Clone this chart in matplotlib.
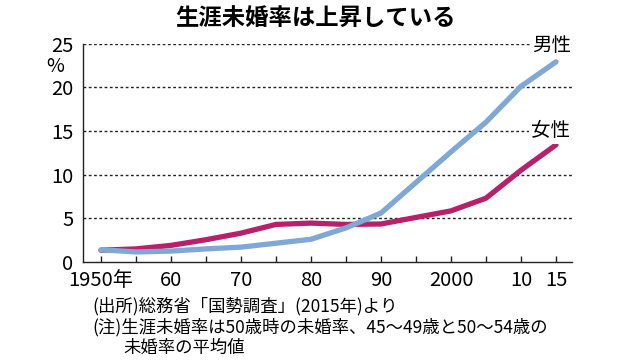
import matplotlib
matplotlib.use("Agg")
import matplotlib.pyplot as plt
from matplotlib.ticker import FixedLocator

years = [1950, 1955, 1960, 1965, 1970, 1975, 1980, 1985, 1990, 1995, 2000, 2005, 2010, 2015]
male = [1.4, 1.15, 1.25, 1.5, 1.7, 2.15, 2.6, 3.9, 5.6, 9.1, 12.6, 16.0, 20.1, 22.9]
female = [1.35, 1.5, 1.9, 2.55, 3.3, 4.3, 4.45, 4.3, 4.35, 5.1, 5.85, 7.3, 10.5, 13.4]
xtick_pos = [1950, 1960, 1970, 1980, 1990, 2000, 2010, 2015]
xtick_labels = ["1950年", "60", "70", "80", "90", "2000", "10", "15"]
ytick_pos = [0, 5, 10, 15, 20, 25]
title = "生涯未婚率は上昇している"
notes = ["(出所)総務省「国勢調査」(2015年)より",
         "(注)生涯未婚率は50歳時の未婚率、45～49歳と50～54歳の",
         "未婚率の平均値"]

NUM = ["Liberation Sans Narrow", "Noto Sans CJK JP", "DejaVu Sans"]
CJK = ["Noto Sans CJK JP", "DejaVu Sans"]
NOTE = ["Liberation Sans Narrow", "Noto Sans CJK JP", "DejaVu Sans"]

W, H = 630, 363
fig = plt.figure(figsize=(W / 100, H / 100), dpi=100)
L, R, B, T = 83, 572, 262, 43.5
ax = fig.add_axes([L / W, 1 - B / H, (R - L) / W, (B - T) / H])

ax.set_xlim(1947.43, 2017.29)
ax.set_ylim(0, 25)

for y in ytick_pos[1:]:
    ax.axhline(y, color="#222222", lw=1.0, ls=(0, (2.0, 1.8)), zorder=1)

ax.plot(years, female, color="#B8206A", lw=3.8, solid_capstyle="round", solid_joinstyle="round", zorder=3)
ax.plot(years, male, color="#7FA8D6", lw=3.8, solid_capstyle="round", solid_joinstyle="round", zorder=4)

for s in ["top", "right"]:
    ax.spines[s].set_visible(False)
for s in ["left", "bottom"]:
    ax.spines[s].set_color("#222222")
    ax.spines[s].set_linewidth(1.0)

ax.set_yticks(ytick_pos)
ax.set_yticklabels([str(v) for v in ytick_pos], family=NUM, fontsize=14.5)
ax.tick_params(axis="y", length=0, pad=7)

ax.set_xticks(xtick_pos)
ax.set_xticklabels(xtick_labels, family=NUM, fontsize=14.5)
ax.xaxis.set_minor_locator(FixedLocator(years))
ax.tick_params(axis="x", which="both", direction="in", length=4, width=1, color="#222222", pad=6)

ax.text(-0.056, (B - 67) / (B - T), "%", transform=ax.transAxes, ha="center", va="center",
        family=NUM, fontsize=14)

ax.text(2014.4, 24.8, "男性", family=CJK, fontsize=14, ha="center", va="center",
        bbox=dict(facecolor="white", edgecolor="none", pad=1.5), zorder=5)
ax.text(2014.2, 15.0, "女性", family=CJK, fontsize=14, ha="center", va="center",
        bbox=dict(facecolor="white", edgecolor="none", pad=1.5), zorder=5)

fig.text(316 / W, 1 - 18 / H, title, family=CJK, fontsize=16.8, fontweight="bold",
         ha="center", va="center")

fig.text(92 / W, 1 - 306 / H, notes[0], family=NOTE, fontsize=12.5, ha="left", va="center")
fig.text(92 / W, 1 - 327 / H, notes[1], family=NOTE, fontsize=12.5, ha="left", va="center")
fig.text(123 / W, 1 - 348 / H, notes[2], family=NOTE, fontsize=12.5, ha="left", va="center")

fig.savefig("out.png", dpi=100)
